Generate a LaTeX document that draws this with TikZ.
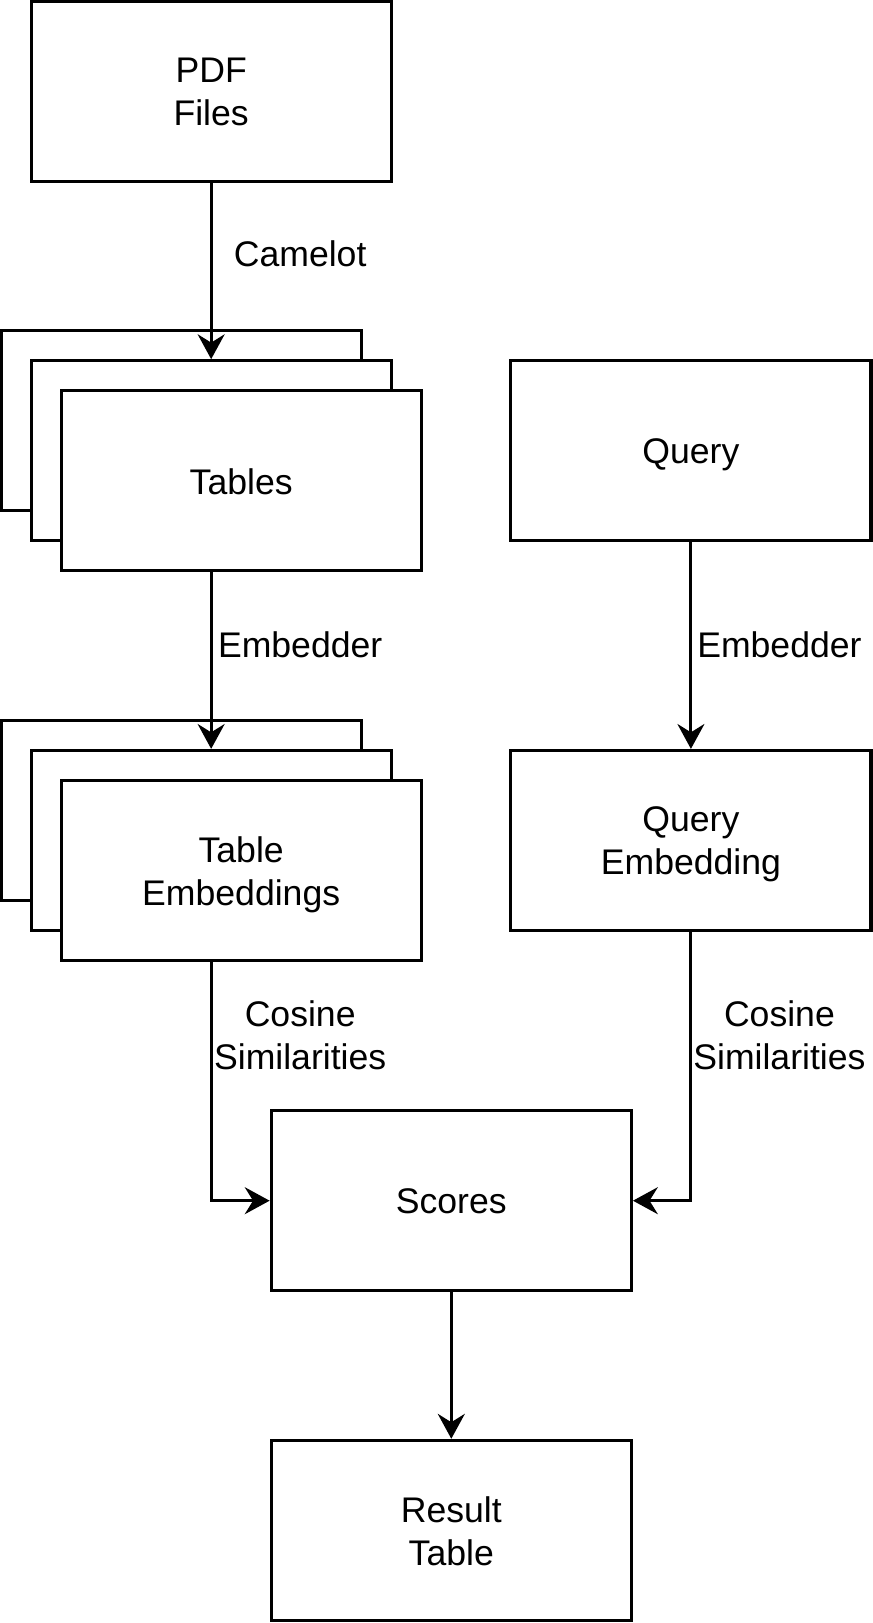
\documentclass[tikz,border=0pt]{standalone}
\usepackage{fontspec}
\setmainfont{Liberation Sans}
\usetikzlibrary{arrows.meta}
\newcommand\linestrut{\rule[-0.212em]{0pt}{0.905em}}
\begin{document}
\begin{tikzpicture}[x=0.5pt,y=-0.5pt,
  txt/.style={align=center,inner sep=0pt,font=\fontsize{17.2}{20.8}\selectfont,
    execute at begin node=\linestrut, execute at end node=\linestrut},
  box/.style={txt,draw,line width=1.5pt,fill=white,minimum width=174pt,minimum height=87pt},
  lbl/.style={txt,yshift=-2pt},
  boxtext/.style={txt,yshift=-2pt},
  conn/.style={line width=1.5pt,-{Stealth[length=12pt,width=13pt,inset=4pt]}}]
\useasboundingbox (0,0) rectangle (843,1568);
% nodes
\node[box] (pdf) at (204,88) {};
\node[box] (tabA) at (175,406.5) {};
\node[box] (tabB) at (204,435.5) {};
\node[box] (tab) at (233,464.5) {};
\node[box] (embA) at (175,783) {};
\node[box] (embB) at (204,812) {};
\node[box] (emb) at (233,841) {};
\node[box] (query) at (667.5,435) {};
\node[box] (qemb) at (667.5,812) {};
\node[box] (scores) at (436,1160) {};
\node[box] (result) at (436,1478.5) {};
% box texts
\node[boxtext] (tpdf) at (pdf) {PDF\\Files};
\node[boxtext] (ttab) at (tab) {Tables};
\node[boxtext] (temb) at (emb) {Table\\Embeddings};
\node[boxtext] (tquery) at (query) {Query};
\node[boxtext] (tqemb) at (qemb) {Query\\Embedding};
\node[boxtext] (tscores) at (scores) {Scores};
\node[boxtext] (tresult) at (result) {Result\\Table};
% labels
\node[lbl] (l1) at (290,245) {Camelot};
\node[lbl] (l2) at (290,622) {Embedder};
\node[lbl] (l3) at (753,622) {Embedder};
\node[lbl] (l4) at (290,1000) {Cosine\\Similarities};
\node[lbl] (l5) at (753,1000) {Cosine\\Similarities};
% connectors
\draw[conn] (pdf.south) -- (tabB.north);
\draw[conn] (tabB.center |- tab.south) -- (embB.north);
\draw[conn] (query.south) -- (qemb.north);
\draw[conn] (embB.center |- emb.south) |- (scores.west);
\draw[conn] (qemb.south) |- (scores.east);
\draw[conn] (scores.south) -- (result.north);
\end{tikzpicture}
\end{document}
